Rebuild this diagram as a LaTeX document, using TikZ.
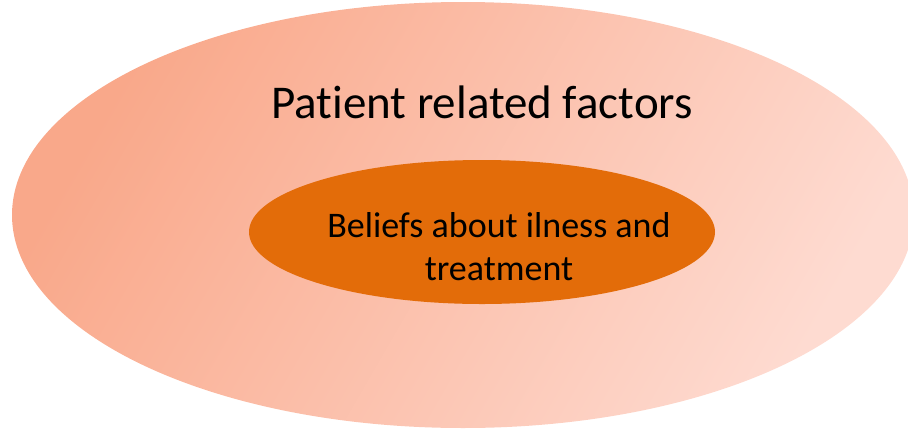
\documentclass[tikz,border=0pt]{standalone}
\usepackage{tikz}
\usetikzlibrary{shapes,calc}
\usepackage{fontspec}
\setmainfont[Ligatures=NoCommon]{Carlito}
\usepackage{xcolor}
\definecolor{salmon}{RGB}{249,168,138}
\definecolor{lsalmon}{RGB}{254,219,209}
\definecolor{dorange}{RGB}{227,108,9}
\tikzstyle{outerfield} = [ellipse, inner sep=0pt, outer sep=0pt,
        left color=salmon, right color=lsalmon, shading angle=60]
\tikzstyle{core} = [ellipse, fill=dorange, inner sep=0pt, outer sep=0pt]

\begin{document}
\begin{tikzpicture}[x=1pt,y=-1pt]
\useasboundingbox (0,0) rectangle (908,429);
\node (patient) [outerfield, minimum width=902pt, minimum height=426pt] at (463,215) {};
\node (beliefs) [core, minimum width=466pt, minimum height=144pt] at (482,232) {};
% labels
\node (patientlbl) [anchor=base, inner sep=0pt, font=\fontsize{47}{56}\selectfont] at (482,118) {Patient related factors};
\node (beliefslbl) [align=center, inner sep=0pt, font=\fontsize{36}{43}\selectfont] at (499,247) {Beliefs about ilness and\\treatment};
\end{tikzpicture}
\end{document}
